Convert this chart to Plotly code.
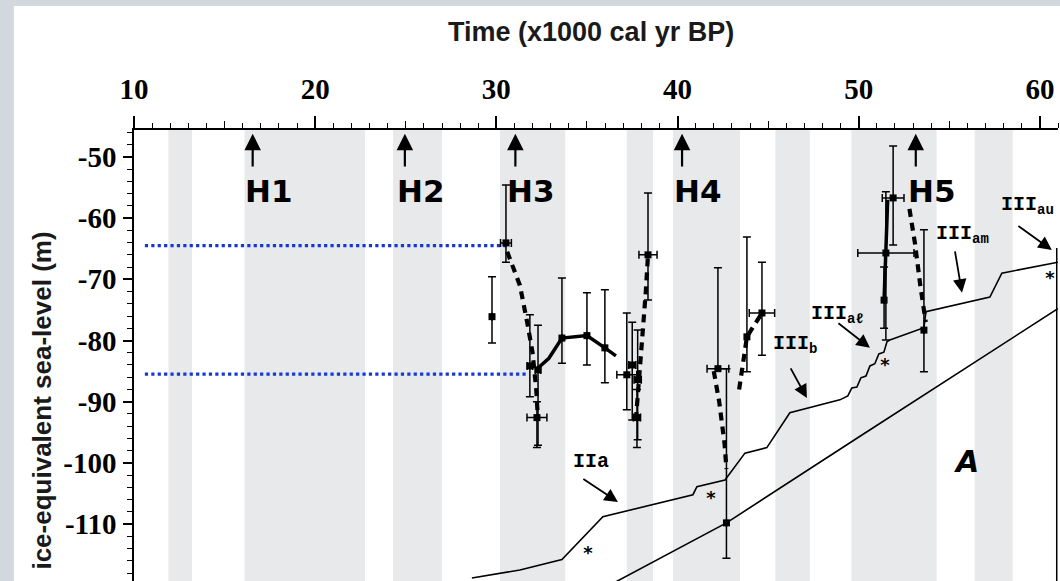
import plotly.graph_objects as go

# ---------------- data ----------------
band_start = [11.9, 16.1, 24.3, 30.2, 37.2, 39.75, 45.4, 49.6, 56.4]
band_end = [13.2, 22.75, 27.0, 33.8, 38.65, 43.45, 47.3, 54.3, 58.5]

heinrich_names = ["H1", "H2", "H3", "H4", "H5"]
heinrich_x = [16.55, 24.95, 31.05, 40.25, 53.15]

ref_levels = [-64.5, -85.5]
ref_x_start = [10.6, 10.6]
ref_x_end = [30.75, 31.7]

# coral / data points with error bars
pt_x = [29.76, 30.53, 31.85, 32.3, 32.24, 33.62, 35.0, 35.99, 37.2, 37.5, 37.8, 37.76,
        38.37, 42.23, 42.7, 43.83, 44.66, 51.9, 51.5, 51.4, 53.6]
pt_y = [-76.1, -64.05, -84.15, -84.8, -92.6, -79.6, -79.2, -81.2, -85.6, -84.0, -86.4, -92.6,
        -66.0, -84.6, -109.8, -79.4, -75.5, -56.7, -65.7, -73.4, -78.3]
pt_y_hi = [-69.6, -54.6, -75.8, -77.5, -90.0, -69.8, -72.2, -71.7, -75.5, -77.0, -78.3, -88.0,
           -55.9, -68.1, -84.6, -63.1, -67.2, -48.2, -55.7, -68.0, -61.9]
pt_y_lo = [-80.4, -67.2, -89.2, -97.1, -97.5, -83.7, -84.0, -86.9, -91.3, -93.0, -96.2, -97.5,
           -73.4, -84.6, -115.6, -85.1, -82.4, -64.4, -79.9, -78.0, -85.1]
pt_x_err = [0, 0.3, 0.15, 0.15, 0.55, 0, 0, 0, 0.55, 0.2, 0.2, 0.2,
            0.5, 0.6, 0, 0, 0.7, 0.6, 1.55, 0, 0]

# thick dashed connecting segments (None separates segments)
dash_x = [30.6, 31.3, 31.7, 32.0, 32.2, 32.3, None,
          37.7, 37.9, 38.1, 38.25, 38.37, None,
          42.0, 42.3, 42.6, 42.7, None,
          43.4, 43.6, 43.83, 44.66, None,
          52.8, 53.1, 53.4, 53.7]
dash_y = [-65.5, -71.0, -77.0, -82.0, -88.0, -93.0, None,
          -93.0, -86.0, -78.0, -72.0, -66.0, None,
          -85.0, -90.0, -97.0, -101.0, None,
          -88.0, -84.0, -79.4, -75.5, None,
          -58.5, -64.0, -71.0, -77.0]
# thick solid connecting segments
solid_x = [32.3, 32.9, 33.62, 35.0, 35.99, 36.6, None, 51.4, 51.5, 51.6]
solid_y = [-84.5, -82.9, -79.6, -79.2, -81.2, -82.5, None, -73.4, -65.0, -57.0]

# upper model curve
up_x = [28.65, 31.3, 33.62, 35.88, 40.85, 41.07, 42.62, 43.72, 44.93, 46.2, 48.96,
        49.4, 49.62, 49.9, 50.12, 50.4, 50.62, 50.89, 51.11, 51.39, 51.56, 51.72,
        53.6, 53.71, 57.24, 57.9, 60.99]
up_y = [-118.8, -117.5, -115.8, -108.8, -105.2, -103.9, -102.8, -98.4, -97.5, -91.8, -89.7,
        -89.05, -87.75, -87.6, -86.1, -85.8, -84.15, -83.8, -82.2, -81.9, -80.2, -79.9,
        -77.9, -75.3, -72.9, -69.0, -67.2]
# lower model curve
low_x = [36.3, 42.7, 50.2, 55.0, 60.99]
low_y = [-119.9, -109.8, -95.4, -86.2, -74.8]

star_x = [35.05, 41.84, 51.45, 60.55]
star_y = [-115.0, -105.9, -84.3, -70.1]

stage_text = ["IIa", "III<sub>b</sub>", "III<sub>a\u2113</sub>", "III<sub>am</sub>", "III<sub>au</sub>"]
stage_x = [35.2, 46.5, 48.85, 55.75, 59.3]
stage_y = [-99.8, -80.7, -75.8, -62.6, -58.0]
stage_tail_x = [34.72, 46.2, 48.8, 55.3, 58.73]
stage_tail_y = [-102.45, -84.3, -77.0, -65.2, -61.1]
stage_head_x = [36.71, 47.14, 50.62, 55.7, 60.66]
stage_head_y = [-106.4, -89.4, -81.2, -72.2, -65.2]

y_tick_vals = [-50, -60, -70, -80, -90, -100, -110]
y_tick_text = ["-50", "-60", "-70", "-80", "-90", "-100", "-110"]
x_tick_vals = [10, 20, 30, 40, 50, 60]
x_mid_ticks = [15, 25, 35, 45, 55]

# ---------------- figure ----------------
fig = go.Figure()

for lv, xs, xe in zip(ref_levels, ref_x_start, ref_x_end):
    fig.add_trace(go.Scatter(x=[xs, xe], y=[lv, lv], mode="lines",
                             line=dict(color="#1438d8", width=3.2, dash="dot"),
                             hoverinfo="skip", showlegend=False))

fig.add_trace(go.Scatter(x=up_x, y=up_y, mode="lines", line=dict(color="black", width=1.6),
                         showlegend=False))
fig.add_trace(go.Scatter(x=low_x, y=low_y, mode="lines", line=dict(color="black", width=1.6),
                         showlegend=False))

fig.add_trace(go.Scatter(x=dash_x, y=dash_y, mode="lines",
                         line=dict(color="black", width=4.2, dash="8px,6px"),
                         connectgaps=False, showlegend=False))
fig.add_trace(go.Scatter(x=solid_x, y=solid_y, mode="lines",
                         line=dict(color="black", width=3.5),
                         connectgaps=False, showlegend=False))

plus = [h - y for h, y in zip(pt_y_hi, pt_y)]
minus = [y - l for y, l in zip(pt_y, pt_y_lo)]
fig.add_trace(go.Scatter(
    x=pt_x, y=pt_y, mode="markers",
    marker=dict(symbol="square", size=7, color="black"),
    error_y=dict(type="data", symmetric=False, array=plus, arrayminus=minus,
                 color="black", thickness=1.5, width=4),
    error_x=dict(type="data", array=pt_x_err, color="black", thickness=1.5, width=4),
    showlegend=False))

fig.add_trace(go.Scatter(x=star_x, y=star_y, mode="text", text=["<b>*</b>"] * len(star_x),
                         textfont=dict(family="DejaVu Sans", size=18, color="#000000"),
                         xaxis="x2", showlegend=False))

shapes = []
shapes.append(dict(type="rect", xref="paper", yref="paper", x0=-0.13, x1=1.01, y0=-0.02, y1=1.275,
                   fillcolor="white", line=dict(width=0), layer="below"))
for s, e in zip(band_start, band_end):
    shapes.append(dict(type="rect", xref="x", yref="paper", x0=s, x1=e, y0=0, y1=1,
                       fillcolor="#e8e9eb", line=dict(width=0), layer="below"))
shapes.append(dict(type="line", xref="x", yref="y", x0=60.93, x1=60.93, y0=-64.9, y1=-125,
                   line=dict(color="black", width=1.5)))

annotations = []
for name, hx in zip(heinrich_names, heinrich_x):
    annotations.append(dict(x=hx, y=-46.2, ax=hx, ay=-51.8, xref="x", yref="y",
                            axref="x", ayref="y", text="", showarrow=True,
                            arrowhead=2, arrowsize=1.5, arrowwidth=2.2, arrowcolor="black"))
    annotations.append(dict(x=hx, y=-55.5, xref="x", yref="y", text="<b>%s</b>" % name,
                            showarrow=False, xshift=16,
                            font=dict(family="DejaVu Sans", size=31, color="black")))

for t, sx, sy in zip(stage_text, stage_x, stage_y):
    annotations.append(dict(x=sx, y=sy, xref="x", yref="y", text="<b>%s</b>" % t,
                            showarrow=False,
                            font=dict(family="Liberation Mono", size=20, color="black")))
for tx, ty, hx, hy in zip(stage_tail_x, stage_tail_y, stage_head_x, stage_head_y):
    annotations.append(dict(x=hx, y=hy, ax=tx, ay=ty, xref="x", yref="y", axref="x", ayref="y",
                            text="", showarrow=True, arrowhead=2, arrowsize=1.5,
                            arrowwidth=1.8, arrowcolor="black"))

annotations.append(dict(x=55.97, y=-99.8, xref="x", yref="y", text="<b><i>A</i></b>",
                        showarrow=False, font=dict(family="DejaVu Sans", size=30, color="black")))

annotations.append(dict(x=0.4946, y=1.2173, xref="paper", yref="paper",
                        xanchor="center", yanchor="middle",
                        text="<b>Time (x1000 cal yr BP)</b>", showarrow=False,
                        font=dict(family="Liberation Sans Narrow, Liberation Sans", size=27,
                                  color="#1a1a1a")))
annotations.append(dict(x=-0.0996, y=0.40, xref="paper", yref="paper", textangle=-90,
                        xanchor="center", yanchor="middle",
                        text="<b>ice-equivalent sea-level (m)</b>", showarrow=False,
                        font=dict(family="Liberation Sans Narrow, Liberation Sans", size=26,
                                  color="#1a1a1a")))

tickfont = dict(family="Liberation Serif", size=29, color="black", weight="bold")

fig.update_layout(
    width=1060, height=581, autosize=False,
    margin=dict(l=134, r=2, t=130, b=0, autoexpand=False),
    paper_bgcolor="#d3d8de", plot_bgcolor="rgba(0,0,0,0)",
    shapes=shapes, annotations=annotations,
    xaxis=dict(range=[10, 61], side="top", showline=True, linecolor="black", linewidth=1.5,
               ticks="outside", ticklen=12, tickwidth=1.5, tickcolor="black", automargin=False,
               tickmode="array", tickvals=x_tick_vals, ticktext=[str(v) for v in x_tick_vals],
               tickfont=tickfont, showgrid=False, zeroline=False, ticklabelstandoff=6,
               minor=dict(tickmode="linear", tick0=10, dtick=1, ticklen=5, tickwidth=1.2,
                          ticks="outside", tickcolor="black", showgrid=False)),
    xaxis2=dict(range=[10, 61], overlaying="x", matches="x", side="top", showline=False,
                ticks="outside", ticklen=8, tickwidth=1.3, tickcolor="black", automargin=False,
                tickmode="array", tickvals=x_mid_ticks, showticklabels=False,
                showgrid=False, zeroline=False),
    yaxis=dict(range=[-119.3, -45.6], showline=True, linecolor="black", linewidth=1.5,
               ticks="outside", ticklen=9, tickwidth=1.5, tickcolor="black", automargin=False,
               tickmode="array", tickvals=y_tick_vals, ticktext=y_tick_text,
               tickfont=tickfont, showgrid=False, zeroline=False, ticklabelstandoff=1,
               minor=dict(tickmode="linear", tick0=-50, dtick=2, ticklen=5, tickwidth=1.2,
                          ticks="outside", tickcolor="black", showgrid=False)),
)

fig.write_html(
    "out.html",
    config={"displayModeBar": False},
    post_script="document.body.style.margin='0px';document.body.style.overflow='hidden';"
                "document.body.style.background='#d3d8de';",
)
